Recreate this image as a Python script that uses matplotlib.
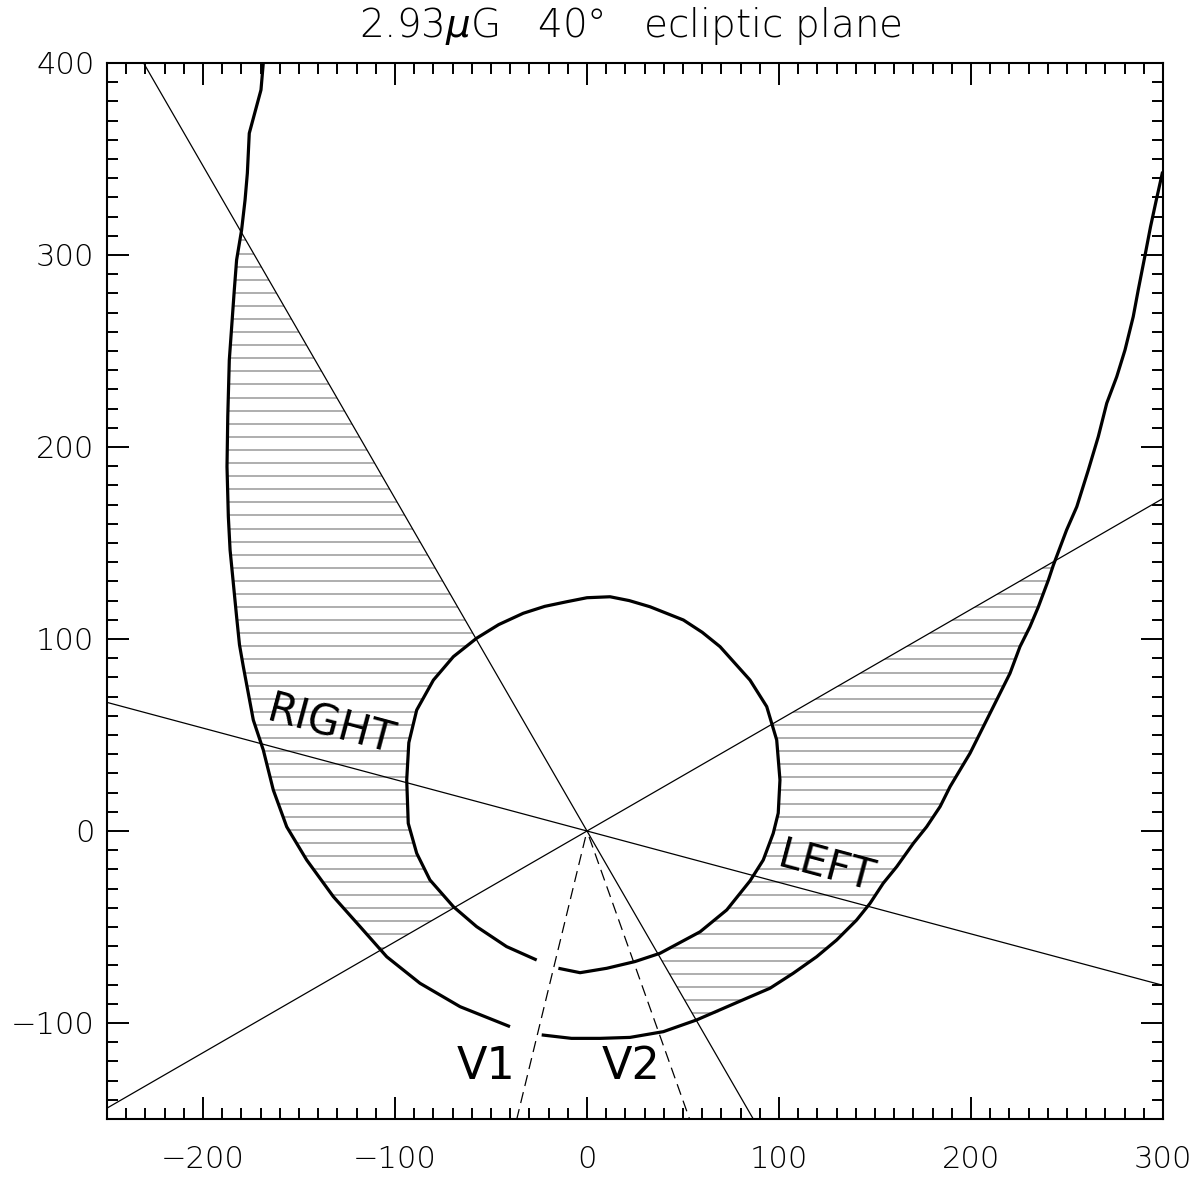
import numpy as np
import matplotlib.pyplot as plt
from matplotlib.patches import Polygon
from matplotlib.ticker import MultipleLocator

plt.rcParams['font.weight'] = 'light'

# outer boundary, left branch (top -> bottom)
outer_left_x = [-168.6, -169.8, -172.5, -175.9, -176.9, -178.1, -179.9, -182.5, -183.7, -186.3,
                -187.1, -187.5, -186.8, -185.9, -184.2, -182.5, -181.0, -179.0, -173.8, -168.6,
                -163.4, -156.4, -146.0, -132.1, -118.2, -104.3, -87.0, -66.1, -40.1]
outer_left_y = [400.0, 386.0, 376.0, 363.4, 342.6, 328.6, 313.0, 297.4, 281.8, 245.3,
                215.8, 189.7, 163.7, 146.4, 129.0, 111.6, 97.0, 85.6, 57.8, 42.2,
                21.4, 2.2, -15.1, -34.2, -49.8, -65.5, -79.3, -91.5, -101.9]

# outer boundary, right branch (bottom -> top)
outer_right_x = [-23.6, -8.1, 6.8, 22.4, 39.8, 57.1, 83.2, 95.3, 107.4, 119.6,
                 130.0, 140.4, 147.4, 154.3, 161.3, 170.0, 176.9, 183.9, 189.1, 194.3,
                 199.5, 204.7, 209.9, 215.1, 220.3, 225.5, 230.7, 235.1, 240.3, 242.9,
                 249.8, 255.1, 261.1, 266.3, 270.7, 275.9, 280.2, 284.5, 287.1, 290.5,
                 293.5, 296.5, 299.8]
outer_right_y = [-106.2, -108.0, -108.0, -107.5, -104.5, -98.4, -87.1, -81.9, -74.1, -65.5,
                 -56.8, -46.4, -37.7, -27.2, -18.6, -6.4, 2.2, 12.7, 23.1, 31.8,
                 40.5, 50.9, 61.3, 71.7, 82.1, 96.0, 106.4, 116.8, 130.7, 138.5,
                 156.8, 168.9, 188.0, 205.4, 222.8, 236.6, 250.5, 267.9, 281.8, 299.1,
                 314.7, 328.6, 343.4]

# inner boundary (counter-clockwise, gap at the bottom)
inner_x = [-14.9, -3.6, 10.3, 25.0, 38.0, 58.9, 72.8, 84.9, 91.8, 97.0,
           99.6, 100.5, 98.8, 93.6, 84.9, 69.3, 60.0, 50.2, 32.8, 22.0,
           12.0, 0.0, -10.6, -22.0, -33.2, -46.0, -57.5, -69.6, -80.0, -88.7,
           -92.8, -93.9, -93.1, -88.7, -81.8, -69.6, -57.5, -41.9, -26.2]
inner_y = [-71.5, -73.8, -71.5, -68.0, -63.7, -52.5, -41.1, -26.0, -15.1, -1.2,
           9.3, 26.6, 47.4, 64.8, 78.6, 96.0, 103.5, 109.9, 116.8, 120.0,
           122.0, 121.5, 119.4, 117.0, 113.4, 107.5, 100.4, 90.8, 78.6, 63.0,
           46.0, 26.6, 4.0, -11.6, -25.5, -39.4, -49.8, -60.2, -67.2]

# straight lines through the origin (degrees)
line_angles = [30, 120, -15]
# Voyager directions (dashed rays)
ray_angles = [256.3, 289.6]
ray_labels = ['V1', 'V2']
ray_label_xy = [(-52.6, -122.4), (23.2, -122.4)]
# hatched sectors (degrees)
sectors = [(120, 210), (-60, 30)]
side_labels = ['RIGHT', 'LEFT']
side_label_xy = [(-133.3, 54.7), (124.5, -18.8)]

title = '2.93$\\mu$G   40°   ecliptic plane'


def polar(xs, ys):
    xs = np.asarray(xs)
    ys = np.asarray(ys)
    return np.unwrap(np.arctan2(ys, xs)), np.hypot(xs, ys)


fig = plt.figure(figsize=(12, 11.94), dpi=100)
ax = fig.add_axes([107 / 1200, 75 / 1194, 1056 / 1200, 1056 / 1194])
ax.set_xlim(-250, 300)
ax.set_ylim(-150, 400)

th_in, r_in = polar(inner_x, inner_y)
outer_branches = [polar(outer_left_x, outer_left_y), polar(outer_right_x, outer_right_y)]

# hatching: horizontal grey lines clipped to the sector regions
hatch_y = np.arange(0.64 - 150, 400, 6.82)
for (a0, a1), (th_o, r_o) in zip(sectors, outer_branches):
    th = np.radians(np.linspace(a0, a1, 300))
    ro = np.interp(th, th_o, r_o)
    ri = np.interp(th, th_in, r_in)
    pts = np.concatenate([np.c_[ro * np.cos(th), ro * np.sin(th)],
                          np.c_[ri * np.cos(th), ri * np.sin(th)][::-1]])
    clip = Polygon(pts, closed=True, facecolor='none', edgecolor='none')
    ax.add_patch(clip)
    hl = ax.hlines(hatch_y, -250, 300, colors='#a8a8a8', lw=1.3, zorder=1)
    hl.set_clip_path(clip)

for ang in line_angles:
    t = np.radians(ang)
    ax.plot([-1000 * np.cos(t), 1000 * np.cos(t)], [-1000 * np.sin(t), 1000 * np.sin(t)],
            color='k', lw=0.9, zorder=2)

for ang in ray_angles:
    t = np.radians(ang)
    ax.plot([0, 1000 * np.cos(t)], [0, 1000 * np.sin(t)], color='k', lw=0.9,
            ls=(9, (9, 5)), zorder=2)

for xs, ys in [(outer_left_x, outer_left_y), (outer_right_x, outer_right_y), (inner_x, inner_y)]:
    ax.plot(xs, ys, color='k', lw=2.3, solid_joinstyle='round', solid_capstyle='butt', zorder=3)

for lab, (x, y) in zip(side_labels, side_label_xy):
    ax.text(x, y, lab, fontsize=30, rotation=-15, ha='center', va='center',
            rotation_mode='anchor', fontweight='normal')
for lab, (x, y) in zip(ray_labels, ray_label_xy):
    ax.text(x, y, lab, fontsize=32, ha='center', va='center', fontweight='normal')

ax.xaxis.set_major_locator(MultipleLocator(100))
ax.yaxis.set_major_locator(MultipleLocator(100))
ax.xaxis.set_minor_locator(MultipleLocator(10))
ax.yaxis.set_minor_locator(MultipleLocator(10))
ax.tick_params(which='both', direction='in', top=True, right=True, width=1.4,
               labelsize=22, labelcolor='k')
ax.tick_params(which='major', length=16)
ax.tick_params(which='minor', length=8)
ax.tick_params(axis='x', pad=19)
ax.tick_params(axis='y', pad=9)
for s in ax.spines.values():
    s.set_linewidth(1.5)

fig.text(630 / 1200, 1 - 37 / 1194, title, ha='center', va='baseline', fontsize=28,
         fontweight='light', color='k')

fig.savefig('out.png', dpi=100)
